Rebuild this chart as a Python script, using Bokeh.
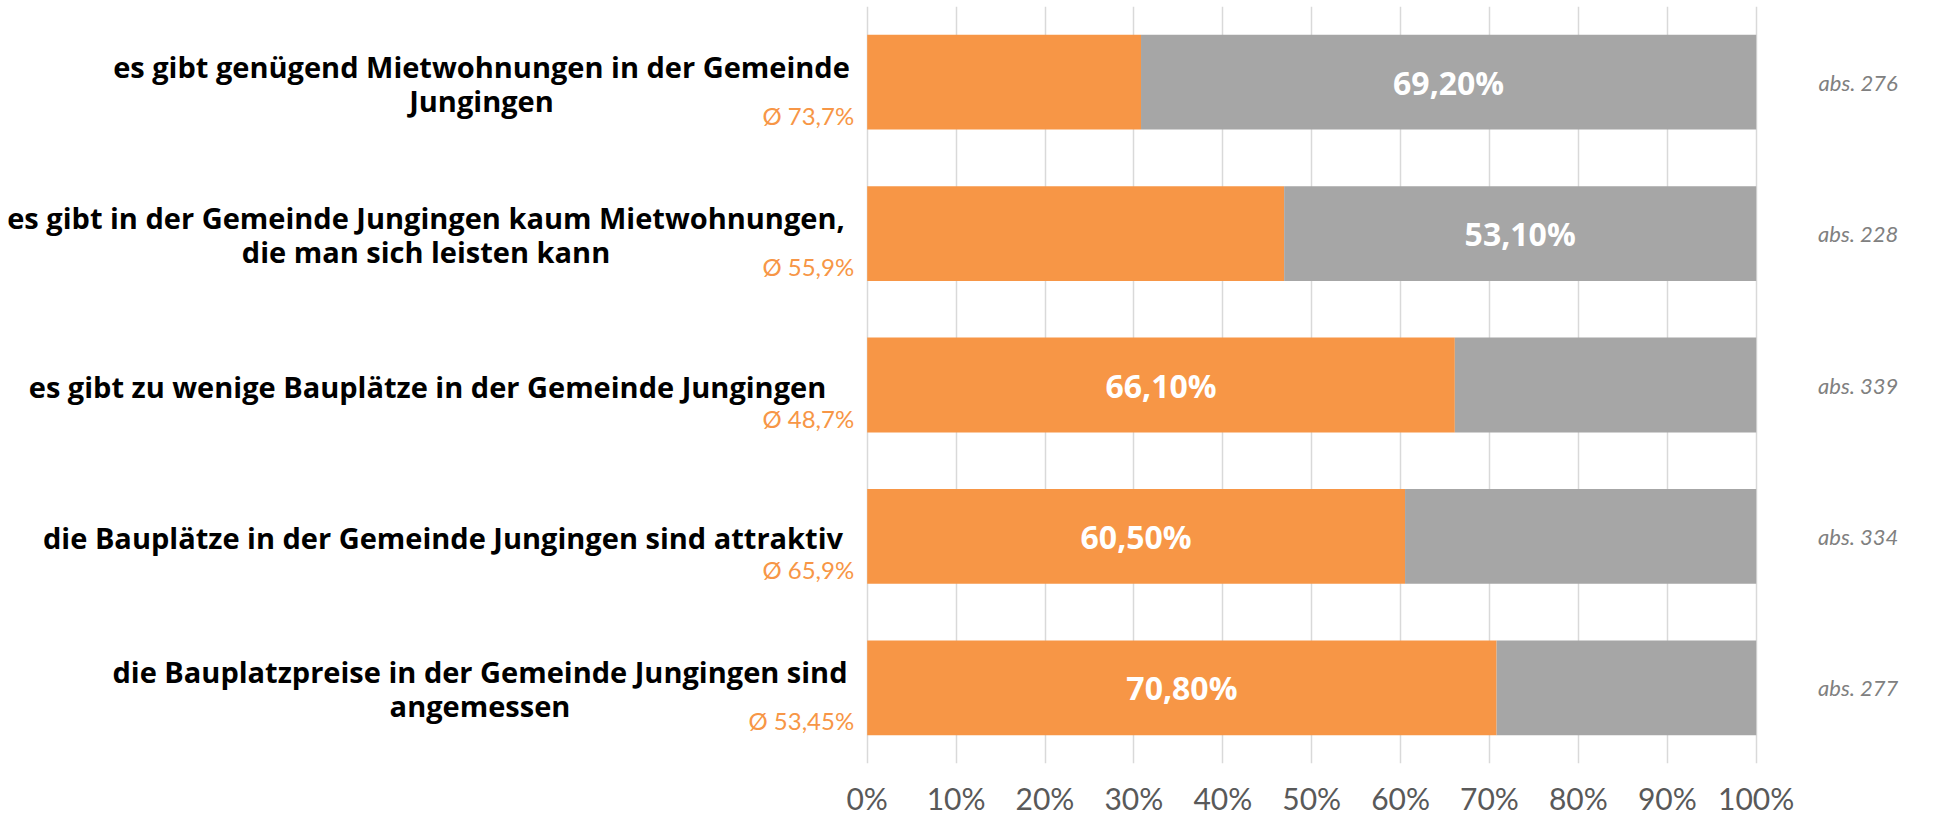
from bokeh.plotting import figure
from bokeh.models import Range1d, FactorRange, FixedTicker, PrintfTickFormatter, ColumnDataSource
from bokeh.core.properties import value
from bokeh.embed import file_html
from bokeh.resources import INLINE

# ---------------- data ----------------
categories = [
    "es gibt genügend Mietwohnungen in der Gemeinde\nJungingen",
    "es gibt in der Gemeinde Jungingen kaum Mietwohnungen,\ndie man sich leisten kann",
    "es gibt zu wenige Bauplätze in der Gemeinde Jungingen",
    "die Bauplätze in der Gemeinde Jungingen sind attraktiv",
    "die Bauplatzpreise in der Gemeinde Jungingen sind\nangemessen",
]
agree = [30.8, 46.9, 66.1, 60.5, 70.8]          # orange share (%)
disagree = [69.2, 53.1, 33.9, 39.5, 29.2]       # grey share (%)
averages = ["Ø 73,7%", "Ø 55,9%", "Ø 48,7%", "Ø 65,9%", "Ø 53,45%"]
abs_counts = [276, 228, 339, 334, 277]
tick_values = [0, 10, 20, 30, 40, 50, 60, 70, 80, 90, 100]

# ---------------- layout / style ----------------
W, H = 1935, 818
X0_PX = 866.7          # pixel position of 0 % inside the figure
PX_PER_PCT = 8.89
ORANGE = "#F79646"
GREY = "#A6A6A6"
FONT = "Lato"
LABEL_FONT = "Open Sans"
label_center_px = [481, 425.5, 427, 442.5, 479.5]   # centres of category labels

x_start = -X0_PX / PX_PER_PCT
x_end = (W - X0_PX) / PX_PER_PCT

p = figure(width=W, height=H,
           x_range=Range1d(x_start, x_end),
           y_range=FactorRange(factors=list(reversed(categories)), range_padding=0),
           output_backend="svg", toolbar_location=None,
           y_axis_location=None,
           min_border_left=0, min_border_right=0, min_border_top=6, min_border_bottom=0)
p.outline_line_color = None
p.background_fill_color = "white"
p.border_fill_color = "white"

# axis
p.xaxis.ticker = FixedTicker(ticks=tick_values)
p.xaxis.formatter = PrintfTickFormatter(format="%d%%")
p.xaxis.axis_line_color = None
p.xaxis.major_tick_line_color = None
p.xaxis.minor_tick_line_color = None
p.xaxis.major_tick_out = 0
p.xaxis.major_tick_in = 0
p.xaxis.major_label_standoff = 16
p.xaxis.major_label_text_font = FONT
p.xaxis.major_label_text_font_size = "30px"
p.xaxis.major_label_text_baseline = "alphabetic"
p.xaxis.major_label_text_color = "#595959"

p.xgrid.grid_line_color = "#D9D9D9"
p.xgrid.grid_line_width = 1.5
p.ygrid.grid_line_color = None

# bars
src = ColumnDataSource(dict(
    cat=categories,
    agree=agree,
    disagree=disagree,
    total=[a + d for a, d in zip(agree, disagree)],
))
bar_h = 0.626
p.hbar(y="cat", left=0, right="agree", height=bar_h, color=ORANGE, line_color=None, source=src)
p.hbar(y="cat", left="agree", right="total", height=bar_h, color=GREY, line_color=None, source=src)

# value labels in the larger segment
lab_x, lab_t = [], []
for a, d in zip(agree, disagree):
    if a >= d:
        lab_x.append(a / 2)
        lab_t.append(f"{a:.2f}%".replace(".", ","))
    else:
        lab_x.append(a + d / 2)
        lab_t.append(f"{d:.2f}%".replace(".", ","))
p.text(x=lab_x, y=categories, text=lab_t, text_align="center", text_baseline="middle",
       text_color="white", text_font=value(LABEL_FONT), text_font_style="bold",
       text_font_size="32px")

# category labels (left)
for cat, cx in zip(categories, label_center_px):
    p.text(x=[0], y=[cat], text=[cat], x_offset=cx - X0_PX, y_offset=1,
           text_align="center", text_baseline="middle", text_line_height=0.87,
           text_color="#000000", text_font=value(LABEL_FONT), text_font_style="bold",
           text_font_size="29px")

# averages (orange)
p.text(x=[0] * len(categories), y=categories, text=averages, x_offset=-13, y_offset=33,
       text_align="right", text_baseline="middle", text_color=ORANGE,
       text_font=value(FONT), text_font_size="24px")

# abs counts (right)
p.text(x=[100] * len(categories), y=categories, text=[f"abs. {n}" for n in abs_counts],
       x_offset=102, y_offset=0, text_align="center", text_baseline="middle",
       text_color="#808080", text_font=value(FONT), text_font_style="italic",
       text_font_size="22px")

open("out.html", "w").write(file_html(p, INLINE))
